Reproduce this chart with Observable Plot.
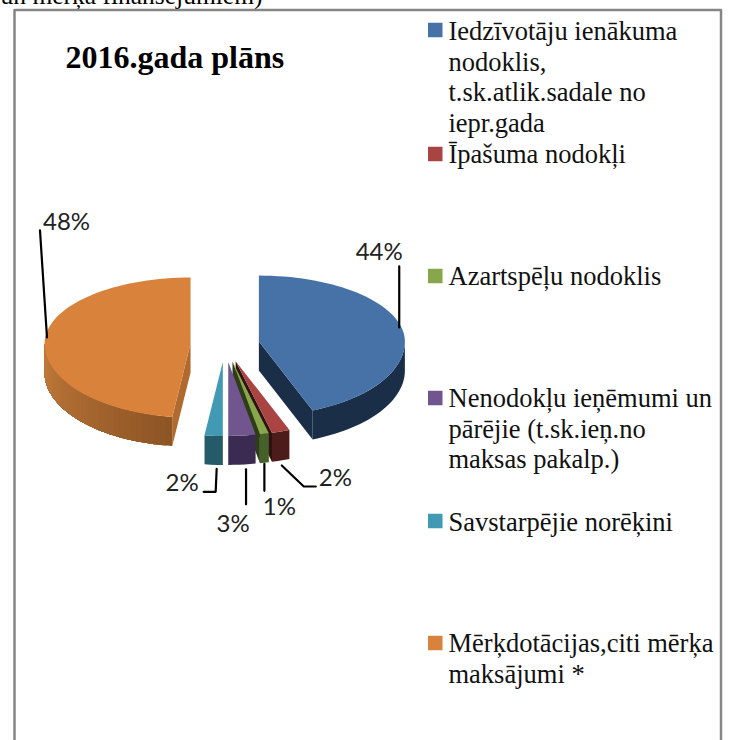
<!DOCTYPE html>
<html>
<head>
<meta charset="utf-8">
<script src="https://cdn.jsdelivr.net/npm/d3@7"></script>
<script src="https://cdn.jsdelivr.net/npm/@observablehq/plot@0.6"></script>
<style>
html,body{margin:0;padding:0;background:#fff;overflow:hidden}
svg{display:block}
</style>
</head>
<body>
<div id="chart"></div>
<script>
// ---- data ----
const categories = [
  "Iedzīvotāju ienākuma\nnodoklis,\nt.sk.atlik.sadale no\niepr.gada",
  "Īpašuma nodokļi",
  "Azartspēļu nodoklis",
  "Nenodokļu ieņēmumi un\npārējie (t.sk.ieņ.no\nmaksas pakalp.)",
  "Savstarpējie norēķini",
  "Mērķdotācijas,citi mērķa\nmaksājumi *"
];
const shares = [44, 2, 1, 3, 2, 48];
const shareLabels = ["44%", "2%", "1%", "3%", "2%", "48%"];
const title = "2016.gada plāns";
const clippedHeading = "un mērķa finansējumiem)";

// ---- styles ----
const topColors  = ["#4672A8", "#A94442", "#88A64B", "#70558F", "#4299B3", "#D9823B"];
const wallFrom   = ["#1B2E47", "#4C1C1A", "#46602A", "#3C2B50", "#255A69", "#C47C3B"];
const wallTo     = ["#1B2E47", "#4C1C1A", "#46602A", "#3C2B50", "#255A69", "#8D5425"];
const cutColors  = ["#1B2E47", "#2E1110", "#2C3D17", "#3A2A4E", "#24555F", "#B06A2D"];

// ---- layout (pixels) ----
const W = 730, H = 740;
const cx = 224.5, cy = 344, R = 146, Rfront = 74, Rback = 66, depth = 29, explode = 34.5;
const X = px => (px - cx) / R;
const Y = py => (py - cy) / Rfront;
const legendX = 448, swatchX = 428, swatchSize = 14.5;
const legendTop = [17.5, 140.5, 262.5, 384.5, 508.5, 629.5];
const swatchMid = [30, 154, 276, 398, 521, 643];
// leader: rim angle (deg) it is measured from, its bends as offsets from there; label offset from the last bend
const leaders = [
  {deg: 74,    bends: [[0, 4], [0, -57]],              label: [-20, -14], anchor: "middle"},
  {deg: 162,   bends: [[1, 34], [23, 55], [35, 55]],   label: [3, -8],    anchor: "start"},
  {deg: 167.4, bends: [[0, 30], [0, 57]],              label: [15, 17],   anchor: "middle"},
  {deg: 173,   bends: [[0, 34], [0, 69]],              label: [-13, 20],  anchor: "middle"},
  {deg: 183.6, bends: [[3, 33], [2, 56], [-10, 56]],   label: [-5, -8],   anchor: "end"},
  {deg: 278,   bends: [[1, 3], [-6, -104]],            label: [3, -8],    anchor: "start"}
];

// ---- geometry from the values ----
const arcs = d3.pie().sort(null).value(d => d)(shares);
const rad = d => d * Math.PI / 180;
function offsetOf(a) {
  const mid = (a.startAngle + a.endAngle) / 2;
  return {
    u: explode / R * Math.sin(mid),
    v: -explode / R * Math.cos(mid) * (Math.cos(mid) > 0 ? Rback : Rfront) / Rfront
  };
}
function rim(a, t, h = 0) {
  const o = offsetOf(a), c = Math.cos(t);
  return {
    x: o.u + Math.sin(t),
    y: o.v - c * (c > 0 ? Rback : Rfront) / Rfront + h
  };
}
function apex(a, h = 0) {
  const o = offsetOf(a);
  return {x: o.u, y: o.v + h};
}
const dh = depth / Rfront;
const polys = [];
let pid = 0;
function addPoly(points, color) {
  const id = pid++;
  for (const p of points) polys.push({...p, id, color});
}
const step = rad(2.5);
function arcPts(a, t0, t1, h) {
  const n = Math.max(2, Math.ceil(Math.abs(t1 - t0) / step));
  return d3.range(n + 1).map(k => rim(a, t0 + (t1 - t0) * k / n, h));
}
// paint back to front: each small slice covers the inner face of the one before it
for (const i of [5, 0, 1, 2, 3, 4]) {
  const a = arcs[i], s = a.startAngle, e = a.endAngle;
  if (Math.sin(s) < 0 && s > Math.PI) addPoly([apex(a), rim(a, s), rim(a, s, dh), apex(a, dh)], cutColors[i]);
  if (Math.sin(e) > 0.001) addPoly([apex(a), rim(a, e), rim(a, e, dh), apex(a, dh)], cutColors[i]);
  // outer wall, front half only; shaded walls are layered so no seams show
  const w0 = Math.max(s, Math.PI / 2), w1 = Math.min(e, 3 * Math.PI / 2);
  if (w1 > w0) {
    const n = wallFrom[i] === wallTo[i] ? 1 : Math.ceil((w1 - w0) / step);
    const shade = d3.interpolateRgb(wallTo[i], wallFrom[i]);
    for (let k = 0; k < n; k++) {
      const t0 = w0 + (w1 - w0) * k / n;
      addPoly([...arcPts(a, t0, w1, 0), ...arcPts(a, w1, t0, dh)], d3.color(shade((k + .5) / n)).formatHex());
    }
  }
  addPoly([apex(a), ...arcPts(a, s, e, 0)], topColors[i]);
}

const leaderPts = [], labels = [];
leaders.forEach((l, i) => {
  const r = rim(arcs[i], rad(l.deg));
  let last = r;
  for (const [dx, dy] of l.bends) {
    last = {x: r.x + dx / R, y: r.y + dy / Rfront};
    leaderPts.push({...last, i});
  }
  labels.push({x: last.x + l.label[0] / R, y: last.y + l.label[1] / Rfront, text: shareLabels[i], anchor: l.anchor});
});

const frameLine = [[14, H], [14, 9.5], [720.5, 9.5], [720.5, H]].map(([a, b]) => ({x: X(a), y: Y(b)}));
const serif = "Liberation Serif";
const legend = categories.map((text, i) => ({text, i, x: X(legendX), y: Y(legendTop[i])}));
const swatches = categories.map((text, i) => ({
  x1: X(swatchX), x2: X(swatchX + swatchSize),
  y1: Y(swatchMid[i] - swatchSize / 2), y2: Y(swatchMid[i] + swatchSize / 2),
  fill: topColors[i]
}));

const plot = Plot.plot({
  width: W, height: H,
  margin: 0,
  style: {background: "#fff", overflow: "hidden"},
  x: {domain: [X(0), X(W)], range: [0, W], axis: null},
  y: {domain: [Y(0), Y(H)], range: [0, H], axis: null},
  color: {type: "identity"},
  marks: [
    Plot.text([clippedHeading], {
      x: X(262), y: Y(-5), text: d => d, fontFamily: serif, fontSize: 25.5, fill: "#000", textAnchor: "end"
    }),
    Plot.line(frameLine, {x: "x", y: "y", stroke: "#868686", strokeWidth: 2.5}),
    Plot.line(polys, {
      x: "x", y: "y", z: "id", fill: "color", stroke: "none",
      curve: "linear-closed"
    }),
    Plot.line(leaderPts, {x: "x", y: "y", z: "i", stroke: "#000", strokeWidth: 2.2, strokeLinejoin: "round"}),
    ...labels.map(l => Plot.text([l], {
      x: "x", y: "y", text: "text", textAnchor: l.anchor,
      fontFamily: "Lato", fontSize: 24, fill: "#222"
    })),
    Plot.text([title], {
      x: X(65), y: Y(57), text: d => d, textAnchor: "start",
      fontFamily: serif, fontWeight: "bold", fontSize: 32, fill: "#000"
    }),
    Plot.rect(swatches, {x1: "x1", x2: "x2", y1: "y1", y2: "y2", fill: "fill"}),
    Plot.text(legend, {
      x: "x", y: "y", text: "text", textAnchor: "start", lineAnchor: "top", lineHeight: 1.16,
      fontFamily: serif, fontSize: 26.5, fill: "#111"
    })
  ]
});
document.getElementById("chart").appendChild(plot);
</script>
</body>
</html>
